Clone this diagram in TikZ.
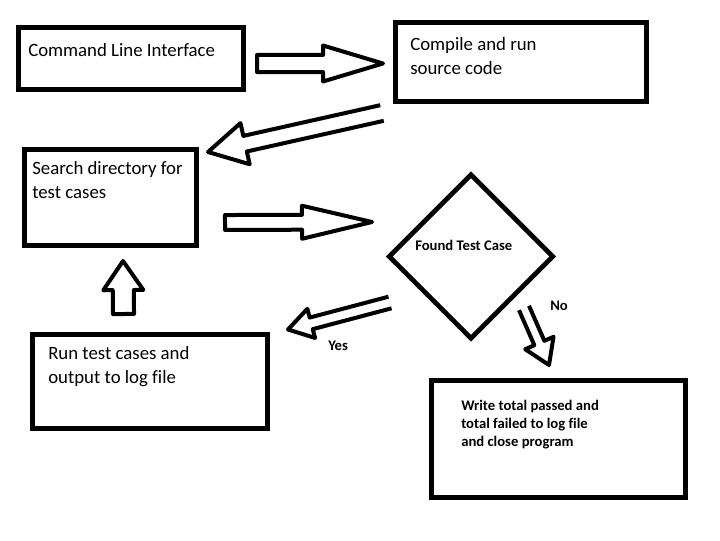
\documentclass[tikz,border=0pt]{standalone}
\usepackage{fontspec}
\setmainfont{Carlito}[Ligatures=NoCommon]
\usetikzlibrary{calc, fit, shapes.geometric}

% hollow block arrow: tail, tip, shaft half width, head half width, head length, closing
\newcommand{\fatarrow}[6]{%
  \coordinate (hb) at ($(#2)!#5!(#1)$);
  \draw[fat] ($(#1)!#3!90:(#2)$) -- ($(hb)!#3!90:(#2)$) -- ($(hb)!#4!90:(#2)$) -- (#2)
    -- ($(hb)!#4!-90:(#2)$) -- ($(hb)!#3!-90:(#2)$) -- ($(#1)!#3!-90:(#2)$) #6;
}

\begin{document}
\begin{tikzpicture}[
  x=0.75pt, y=-0.75pt,
  box/.style={draw, line width=3.6pt, inner sep=0pt},
  fat/.style={draw, line width=3pt, line join=round},
  txt/.style={font=\fontsize{14.1}{17.3}\selectfont, align=left, inner sep=0pt, anchor=base west},
  btxt/.style={font=\bfseries\fontsize{11}{13.2}\selectfont, align=left, inner sep=0pt, anchor=base west}
]
  \useasboundingbox[fill=white] (0,0) rectangle (720,540);

  \node[box, fit={(18.5,27.5) (243.5,89.5)}] (cli) {};
  \node[box, fit={(395.5,22.5) (646.5,101.5)}] (compile) {};
  \node[box, fit={(24.5,149.5) (196.5,245.5)}] (search) {};
  \node[box, fit={(32.5,334.5) (267.5,428.5)}] (runtests) {};
  \node[box, fit={(431.5,380.5) (685.5,497.5)}] (writetotal) {};
  \node[draw, diamond, line width=3.6pt, inner sep=0pt, minimum width=124pt, minimum height=124pt] (found) at (471,256.5) {};

  % multi-line texts sit on the baseline of their last line
  \node[txt] (cli-txt) at (28,56) {Command Line Interface};
  \node[txt] (compile-txt) at (410,74) {Compile and run\\source code};
  \node[txt] (search-txt) at (32,198) {Search directory for\\test cases};
  \node[txt] (runtests-txt) at (48,383) {Run test cases and\\output to log file};
  \node[btxt] (writetotal-txt) at (461,446) {Write total passed and\\total failed to log file\\and close program};
  \node[btxt] (found-txt) at (415,250) {Found Test Case};
  \node[btxt] (yes) at (328,350) {Yes};
  \node[btxt] (no) at (550,310) {No};

  \coordinate (a1-s) at (257,63.5);   \coordinate (a1-e) at (383,63.5);
  \coordinate (a2-s) at (382,113);    \coordinate (a2-e) at (208,152);
  \coordinate (a3-s) at (225,222.5);  \coordinate (a3-e) at (372,222);
  \coordinate (a4-s) at (390,302.5);  \coordinate (a4-e) at (288,329.5);
  \coordinate (a5-s) at (524,308);    \coordinate (a5-e) at (549,365);
  \coordinate (a6-s) at (123.5,314);  \coordinate (a6-e) at (123,261);

  \fatarrow{a1-s}{a1-e}{6.4pt}{13.5pt}{45pt}{-- cycle}
  \fatarrow{a2-s}{a2-e}{6pt}{15.8pt}{28.5pt}{}
  \fatarrow{a3-s}{a3-e}{5.6pt}{12.4pt}{52.5pt}{-- cycle}
  \fatarrow{a4-s}{a4-e}{4.5pt}{11.3pt}{18pt}{}
  \fatarrow{a5-s}{a5-e}{4.1pt}{11.6pt}{18pt}{}
  \fatarrow{a6-s}{a6-e}{7.9pt}{15pt}{21.8pt}{-- cycle}
\end{tikzpicture}
\end{document}
